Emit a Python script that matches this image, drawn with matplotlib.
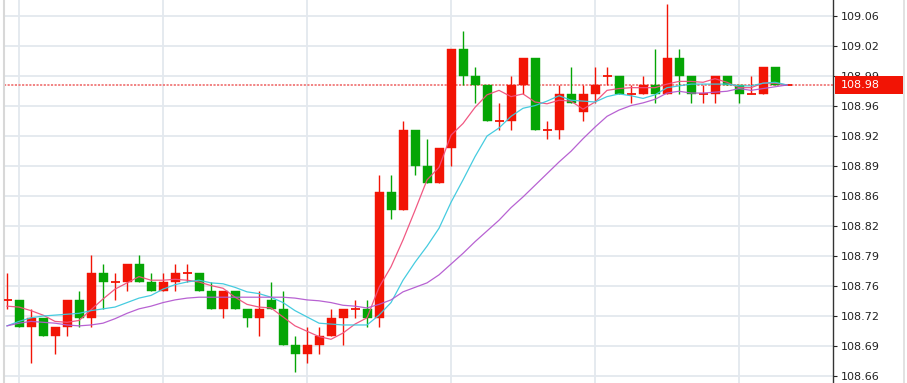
import matplotlib
matplotlib.use("Agg")
import matplotlib.pyplot as plt
from matplotlib.patches import Rectangle
from matplotlib.lines import Line2D
import numpy as np

# ---- data ----
opens = [108.74, 108.74, 108.71, 108.72, 108.70, 108.71, 108.74, 108.72, 108.77, 108.76,
         108.76, 108.78, 108.76, 108.75, 108.76, 108.77, 108.77, 108.75, 108.73, 108.75,
         108.73, 108.72, 108.74, 108.73, 108.69, 108.68, 108.69, 108.70, 108.72, 108.73,
         108.73, 108.72, 108.86, 108.84, 108.93, 108.89, 108.87, 108.91, 109.02, 108.99,
         108.98, 108.94, 108.94, 108.98, 109.01, 108.93, 108.93, 108.97, 108.95, 108.97,
         108.99, 108.99, 108.97, 108.97, 108.98, 108.97, 109.01, 108.99, 108.97, 108.97,
         108.99, 108.98, 108.97, 108.97, 109.00, 108.98]
highs = [108.77, 108.74, 108.73, 108.72, 108.71, 108.74, 108.75, 108.79, 108.78, 108.77,
         108.78, 108.79, 108.77, 108.77, 108.78, 108.78, 108.77, 108.76, 108.75, 108.75,
         108.73, 108.75, 108.76, 108.75, 108.70, 108.71, 108.71, 108.73, 108.73, 108.74,
         108.74, 108.88, 108.88, 108.94, 108.93, 108.92, 108.91, 109.02, 109.04, 109.00,
         108.98, 108.96, 108.99, 109.01, 109.01, 108.94, 108.98, 109.00, 108.98, 109.00,
         109.00, 108.99, 108.98, 108.99, 109.02, 109.07, 109.02, 108.99, 108.98, 108.99,
         108.99, 108.98, 108.99, 109.00, 109.00, 108.98]
lows = [108.73, 108.71, 108.67, 108.70, 108.68, 108.70, 108.71, 108.71, 108.73, 108.74,
        108.75, 108.76, 108.75, 108.75, 108.75, 108.76, 108.75, 108.73, 108.72, 108.73,
        108.71, 108.70, 108.73, 108.69, 108.66, 108.67, 108.68, 108.70, 108.69, 108.72,
        108.71, 108.71, 108.83, 108.84, 108.88, 108.87, 108.87, 108.89, 108.98, 108.96,
        108.94, 108.93, 108.93, 108.97, 108.93, 108.92, 108.92, 108.96, 108.94, 108.96,
        108.98, 108.97, 108.96, 108.97, 108.96, 108.97, 108.97, 108.96, 108.96, 108.96,
        108.98, 108.96, 108.97, 108.97, 108.98, 108.98]
closes = [108.74, 108.71, 108.72, 108.70, 108.71, 108.74, 108.72, 108.77, 108.76, 108.76,
          108.78, 108.76, 108.75, 108.76, 108.77, 108.77, 108.75, 108.73, 108.75, 108.73,
          108.72, 108.73, 108.73, 108.69, 108.68, 108.69, 108.70, 108.72, 108.73, 108.73,
          108.72, 108.86, 108.84, 108.93, 108.89, 108.87, 108.91, 109.02, 108.99, 108.98,
          108.94, 108.94, 108.98, 109.01, 108.93, 108.93, 108.97, 108.96, 108.97, 108.98,
          108.99, 108.97, 108.97, 108.98, 108.97, 109.01, 108.99, 108.97, 108.97, 108.99,
          108.98, 108.97, 108.97, 109.00, 108.98, 108.98]

ma_short = [108.733, 108.732, 108.728, 108.723, 108.716, 108.715, 108.717, 108.729, 108.741, 108.752,
            108.759, 108.766, 108.762, 108.762, 108.763, 108.762, 108.760, 108.756, 108.753, 108.743,
            108.735, 108.732, 108.731, 108.721, 108.711, 108.705, 108.699, 108.696, 108.703, 108.713,
            108.720, 108.754, 108.777, 108.807, 108.840, 108.874, 108.888, 108.924, 108.937, 108.955,
            108.969, 108.974, 108.967, 108.970, 108.961, 108.959, 108.963, 108.962, 108.953, 108.961,
            108.974, 108.976, 108.977, 108.977, 108.977, 108.981, 108.984, 108.984, 108.983, 108.987,
            108.983, 108.977, 108.977, 108.982, 108.982, 108.980]
ma_mid = [108.711, 108.716, 108.720, 108.722, 108.723, 108.724, 108.725, 108.728, 108.730, 108.732,
          108.737, 108.742, 108.745, 108.752, 108.757, 108.760, 108.762, 108.759, 108.758, 108.754,
          108.749, 108.747, 108.743, 108.737, 108.728, 108.721, 108.714, 108.713, 108.712, 108.712,
          108.712, 108.723, 108.737, 108.762, 108.782, 108.800, 108.820, 108.849, 108.874, 108.900,
          108.923, 108.932, 108.945, 108.954, 108.957, 108.962, 108.968, 108.963, 108.962, 108.961,
          108.967, 108.970, 108.968, 108.965, 108.969, 108.977, 108.979, 108.981, 108.981, 108.981,
          108.981, 108.979, 108.979, 108.982, 108.983, 108.980]
ma_long = [108.711, 108.714, 108.716, 108.715, 108.714, 108.712, 108.711, 108.712, 108.714, 108.719,
           108.725, 108.730, 108.733, 108.737, 108.740, 108.742, 108.743, 108.743, 108.743, 108.743,
           108.743, 108.743, 108.743, 108.743, 108.742, 108.740, 108.739, 108.737, 108.734, 108.733,
           108.731, 108.735, 108.740, 108.749, 108.754, 108.759, 108.768, 108.780, 108.792, 108.805,
           108.817, 108.829, 108.843, 108.855, 108.868, 108.881, 108.894, 108.906, 108.920, 108.933,
           108.945, 108.952, 108.957, 108.960, 108.964, 108.971, 108.973, 108.971, 108.971, 108.972,
           108.973, 108.976, 108.974, 108.976, 108.978, 108.980]

last_price = 108.98
last_label = "108.98"
tick_labels = ["108.66", "108.69", "108.72", "108.76", "108.79", "108.82", "108.86",
               "108.89", "108.92", "108.96", "108.99", "109.02", "109.06"]
vgrid_idx = [1, 13, 25, 37, 49, 61]

# ---- style ----
UP = "#f21405"
DOWN = "#05a505"
GRID = "#e3e8ee"

W, H = 907, 383
fig = plt.figure(figsize=(W / 100, H / 100), dpi=100)
ax = fig.add_axes([4 / W, 0, (833 - 4) / W, 1])

x = np.arange(len(opens))
body_w = 0.75

for i in x:
    o, h, l, c = opens[i], highs[i], lows[i], closes[i]
    col = DOWN if c < o else UP
    ax.vlines(i, l, h, color=col, lw=1.0, zorder=3)
    if abs(c - o) < 1e-9:
        ax.hlines(o, i - body_w / 2, i + body_w / 2, color=col, lw=1.3, zorder=3)
    else:
        ax.add_patch(Rectangle((i - body_w / 2, min(o, c)), body_w, abs(c - o),
                               facecolor=col, edgecolor=col, lw=0.3, zorder=4))

ax.plot(x, ma_short, color="#f0507c", lw=0.9, zorder=5, alpha=0.95)
ax.plot(x, ma_mid, color="#3cc9de", lw=0.9, zorder=5, alpha=0.95)
ax.plot(x, ma_long, color="#b45ad0", lw=0.9, zorder=5, alpha=0.95)

ax.axhline(last_price, color="#f07a7a", lw=1.3, ls=(0, (1.2, 0.8)), zorder=2)

# axes limits
ax.set_xlim(-0.25, 68.83)
ylo, yhi = 108.6472, 109.0749
ax.set_ylim(ylo, yhi)

tick_pos = [108.655 + k * 0.0335 for k in range(len(tick_labels))]
ax.set_yticks(tick_pos)
ax.set_yticklabels(tick_labels)
ax.yaxis.tick_right()
ax.tick_params(axis="y", direction="out", length=3, width=0.8, colors="#222222",
               labelsize=8, pad=2.5)
ax.set_xticks(vgrid_idx)
ax.set_xticklabels([])
ax.tick_params(axis="x", length=0)
ax.grid(True, color=GRID, lw=1.3, zorder=0)
ax.set_axisbelow(True)

for s in ["top", "bottom"]:
    ax.spines[s].set_visible(False)
ax.spines["left"].set_color("#d8d8d8")
ax.spines["left"].set_linewidth(1.5)
ax.spines["right"].set_color("#333333")
ax.spines["right"].set_linewidth(1.0)

# right outer border
fig.add_artist(Line2D([903.5 / W, 903.5 / W], [0, 1], transform=fig.transFigure,
                      color="#dddddd", lw=1.2))

# price label box
fig.canvas.draw()
py = ax.transData.transform((0, last_price))[1]  # display pixels
box_h = 18
fig.add_artist(Rectangle((835 / W, (py - box_h / 2) / H), 68 / W, box_h / H,
                         transform=fig.transFigure, facecolor="#f21405",
                         edgecolor="none", zorder=10))
fig.text(841 / W, py / H, last_label, color="white", fontsize=8, va="center",
         ha="left", zorder=11)

fig.savefig("out.png", dpi=100)
